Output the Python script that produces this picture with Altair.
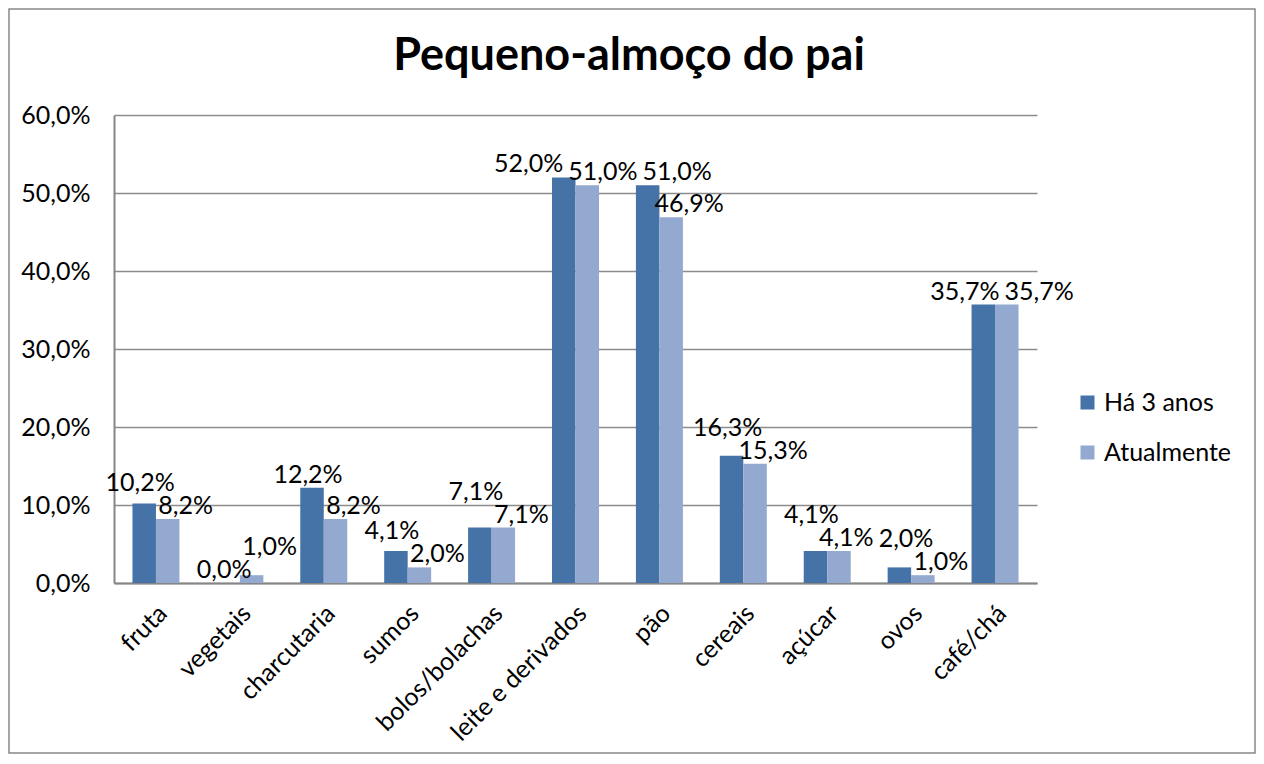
import altair as alt
import pandas as pd

categories = ["fruta", "vegetais", "charcutaria", "sumos", "bolos/bolachas",
              "leite e derivados", "pão", "cereais", "açúcar", "ovos", "café/chá"]
ha_3_anos = [10.2, 0.0, 12.2, 4.1, 7.1, 52.0, 51.0, 16.3, 4.1, 2.0, 35.7]
atualmente = [8.2, 1.0, 8.2, 2.0, 7.1, 51.0, 46.9, 15.3, 4.1, 1.0, 35.7]
series = ["Há 3 anos", "Atualmente"]
colors = ["#4572A7", "#93A9CF"]
y_ticks = [0, 10, 20, 30, 40, 50, 60]
title_text = "Pequeno-almoço do pai"

FONT = "Lato"
FS = 25
W, H = 923, 468
YMAX = 60
N = len(categories)
STEP = W / N               # px per category
PAD_IN = 0.44              # band padding inner
BAR_HALF = (1 - PAD_IN) / 4  # in category units (half of one bar)
TXT_H = FS * 0.8


def fmt(v):
    return f"{v:.1f}".replace(".", ",") + "%"


rows = []
for c, a, b in zip(categories, ha_3_anos, atualmente):
    rows.append({"categoria": c, "serie": series[0], "valor": a})
    rows.append({"categoria": c, "serie": series[1], "valor": b})
df = pd.DataFrame(rows)
df["rotulo"] = df["valor"].map(fmt)


# ---- label placement (Excel-like): next to each bar, then resolve collisions ----
def text_width(s):
    w = 0.0
    for ch in s:
        w += 0.58 if ch.isdigit() else (0.26 if ch == "," else 0.85)
    return w * FS


def overlap_x(a, b):
    return min(a["cx"] + a["w"] / 2, b["cx"] + b["w"] / 2) - max(a["cx"] - a["w"] / 2, b["cx"] - b["w"] / 2)


def overlap_y(a, b):
    return min(a["y1"], b["y1"]) - max(a["y0"], b["y0"])


labels = []
for i, c in enumerate(categories):
    pair = []
    for k, (s, v) in enumerate(zip(series, (ha_3_anos[i], atualmente[i]))):
        bar_c = (i + 0.5 + (-BAR_HALF if k == 0 else BAR_HALF)) * STEP
        shift = -4 if k == 0 else 18
        txt = fmt(v)
        bottom = v / YMAX * H + 5
        pair.append({"categoria": c, "serie": s, "valor": v, "rotulo": txt,
                     "cx": bar_c + shift, "w": text_width(txt),
                     "y0": bottom, "y1": bottom + TXT_H})
    d, l = pair
    # short bars: lift the label of the taller bar above its neighbour
    if max(d["valor"], l["valor"]) < 20 and overlap_x(d, l) > 0 and overlap_y(d, l) > 0:
        up, other = (d, l) if d["valor"] >= l["valor"] else (l, d)
        up["y0"] = other["y1"] + 3
        up["y1"] = up["y0"] + TXT_H
    labels.extend(pair)

for _ in range(80):
    moved = False
    labels.sort(key=lambda d: d["cx"])
    for a, b in zip(labels, labels[1:]):
        if overlap_y(a, b) <= 0:
            continue
        gap = (b["cx"] - b["w"] / 2) - (a["cx"] + a["w"] / 2)
        if gap < 3:
            push = (3 - gap) / 2
            a["cx"] -= push
            b["cx"] += push
            moved = True
    if not moved:
        break

lab_df = pd.DataFrame(labels)
lab_df["pos"] = lab_df["cx"] / STEP
lab_df["ly"] = lab_df["y0"] / H * YMAX

# ---- encodings ----
x_enc = alt.X(
    "categoria:N", sort=categories,
    scale=alt.Scale(paddingInner=PAD_IN, paddingOuter=PAD_IN / 2),
    axis=alt.Axis(title=None, labelAngle=-45, labelAlign="right", labelBaseline="middle",
                  ticks=False, labelPadding=26, labelOffset=7, grid=False,
                  domainColor="#868686", domainWidth=2),
)
xo_enc = alt.XOffset("serie:N", sort=series, scale=alt.Scale(paddingInner=0, paddingOuter=0))
y_axis = alt.Axis(title=None, values=y_ticks, ticks=False, labelPadding=24,
                  labelExpr="replace(format(datum.value, '.1f'), '.', ',') + '%'",
                  grid=True, gridColor="#8C8C8C", gridWidth=1.5,
                  domainColor="#868686", domainWidth=2)
y_scale = alt.Scale(domain=[0, YMAX], nice=False)
y_enc = alt.Y("valor:Q", scale=y_scale, axis=y_axis)
color_enc = alt.Color(
    "serie:N", sort=series, scale=alt.Scale(domain=series, range=colors),
    legend=alt.Legend(title=None, orient="none", legendX=961, legendY=275,
                      symbolType="square", symbolSize=196, symbolStrokeWidth=0,
                      labelFont=FONT, labelFontSize=FS, labelColor="black",
                      labelOffset=4, rowPadding=24, padding=0),
)

bars = alt.Chart(df).mark_bar().encode(x=x_enc, xOffset=xo_enc, y=y_enc, color=color_enc)

texts = alt.Chart(lab_df).mark_text(
    font=FONT, fontSize=FS, color="black", baseline="alphabetic", align="center"
).encode(
    x=alt.X("pos:Q", scale=alt.Scale(domain=[0, N], nice=False, zero=False), axis=None),
    y=alt.Y("ly:Q", scale=y_scale, axis=y_axis),
    text="rotulo:N",
)

one = pd.DataFrame({"k": [0]})
border = alt.Chart(one).mark_rect(fillOpacity=0, stroke="#888888", strokeWidth=1.5).encode(
    x=alt.value(-105), x2=alt.value(1141), y=alt.value(-106), y2=alt.value(638)
)
title = alt.Chart(one).mark_text(
    text=title_text, font=FONT, fontSize=45, fontWeight="bold", color="black",
    align="center", baseline="alphabetic"
).encode(x=alt.value(515), y=alt.value(-45))

chart = alt.layer(border, bars, texts, title).resolve_scale(x="independent").properties(
    width=W, height=H,
    autosize=alt.AutoSizeParams(type="none"),
    padding={"left": 106, "top": 107, "right": 219, "bottom": 171},
).configure_view(stroke=None).configure_axis(
    labelFont=FONT, labelFontSize=FS, labelColor="black"
)

chart.save("out.html", embed_options={"renderer": "svg", "actions": False})
